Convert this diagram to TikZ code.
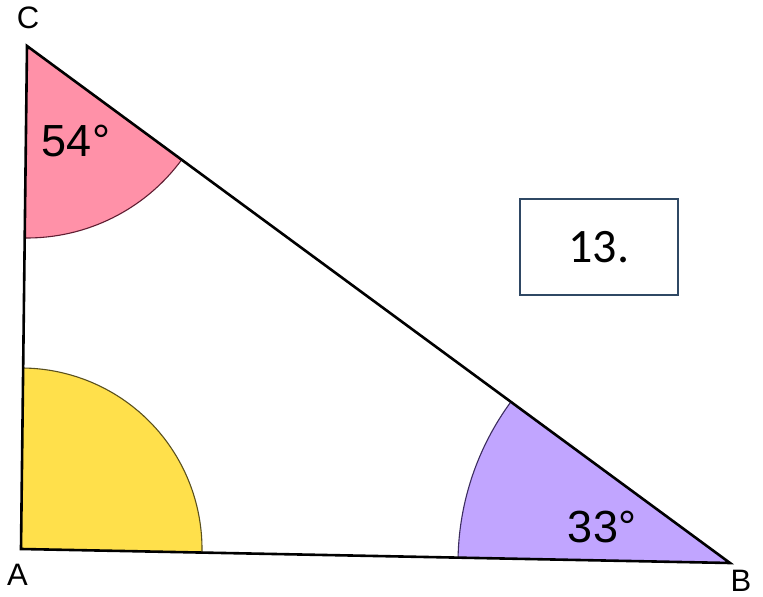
\documentclass[tikz,border=0pt]{standalone}
\usepackage{fontspec}
\setmainfont{Liberation Sans}
\newfontfamily\calfont{Carlito}
\definecolor{pinkfill}{RGB}{255,145,168}
\definecolor{pinkedge}{RGB}{95,30,50}
\definecolor{yellowfill}{RGB}{255,224,75}
\definecolor{yellowedge}{RGB}{90,80,30}
\definecolor{purplefill}{RGB}{193,165,255}
\definecolor{purpleedge}{RGB}{60,45,95}
\definecolor{boxedge}{RGB}{47,72,100}
\begin{document}
\begin{tikzpicture}[x=1pt,y=1pt,
  tri/.style={line width=2.6pt,line join=miter},
  arcedge/.style={line width=1.1pt},
  vlabel/.style={font=\fontsize{31}{34}\selectfont,inner sep=0pt},
  anglabel/.style={font=\fontsize{45}{50}\selectfont,inner sep=0pt},
  numbox/.style={draw=boxedge,line width=1.6pt,minimum width=158pt,minimum height=96pt,inner sep=0pt,font=\calfont\fontsize{48}{52}\selectfont}]
\useasboundingbox (0,0) rectangle (763,597);
\coordinate (A) at (21,48);
\coordinate (B) at (730,34);
\coordinate (C) at (27,551);
% sectors
\fill[pinkfill] (C) -- ++(269.3:192) arc[start angle=269.3,end angle=323.7,radius=192] -- cycle;
\draw[pinkedge,arcedge] (C) ++(269.3:192) arc[start angle=269.3,end angle=323.7,radius=192];
\fill[yellowfill] (A) -- ++(-1.13:181) arc[start angle=-1.13,end angle=89.3,radius=181] -- cycle;
\draw[yellowedge,arcedge] (A) ++(-1.13:181) arc[start angle=-1.13,end angle=89.3,radius=181];
\fill[purplefill] (B) -- ++(143.67:272) arc[start angle=143.67,end angle=178.87,radius=272] -- cycle;
\draw[purpleedge,arcedge] (B) ++(143.67:272) arc[start angle=143.67,end angle=178.87,radius=272];
% triangle
\draw[tri] (A) -- (B) -- (C) -- cycle;
% labels
\node[vlabel] (lC) at (28,579) {C};
\node[vlabel] (lA) at (17.5,22) {A};
\node[vlabel] (lB) at (741,16) {B};
\node[anglabel] (a54) at (76,456) {54°};
\node[anglabel] (a33) at (602,70) {33°};
\node[numbox] (box) at (599,350) {13.};
\end{tikzpicture}
\end{document}
